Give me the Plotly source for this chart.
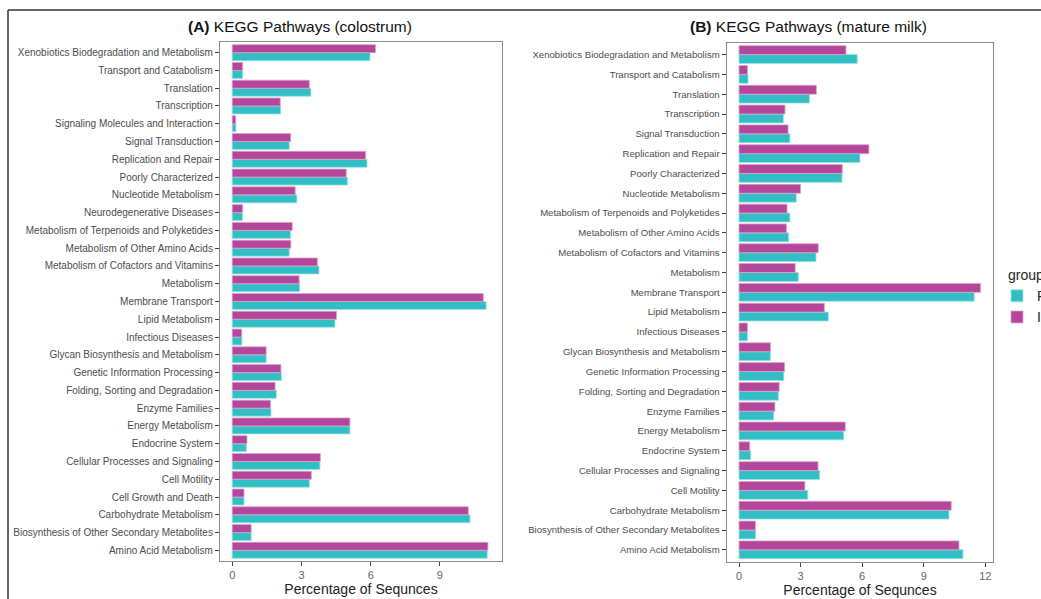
import plotly.graph_objects as go

W, H = 1041, 599

# ---------------- data (bottom -> top) ----------------
cats_a = [
    "Amino Acid Metabolism", "Biosynthesis of Other Secondary Metabolites",
    "Carbohydrate Metabolism", "Cell Growth and Death", "Cell Motility",
    "Cellular Processes and Signaling", "Endocrine System", "Energy Metabolism",
    "Enzyme Families", "Folding, Sorting and Degradation",
    "Genetic Information Processing", "Glycan Biosynthesis and Metabolism",
    "Infectious Diseases", "Lipid Metabolism", "Membrane Transport", "Metabolism",
    "Metabolism of Cofactors and Vitamins", "Metabolism of Other Amino Acids",
    "Metabolism of Terpenoids and Polyketides", "Neurodegenerative Diseases",
    "Nucleotide Metabolism", "Poorly Characterized", "Replication and Repair",
    "Signal Transduction", "Signaling Molecules and Interaction", "Transcription",
    "Translation", "Transport and Catabolism",
    "Xenobiotics Biodegradation and Metabolism",
]
p_a = [11.05, 0.82, 10.30, 0.51, 3.34, 3.80, 0.61, 5.10, 1.68, 1.91, 2.13, 1.47,
       0.42, 4.45, 11.00, 2.92, 3.76, 2.47, 2.53, 0.44, 2.80, 4.99, 5.84, 2.47,
       0.16, 2.10, 3.41, 0.45, 5.97]
i_a = [11.08, 0.82, 10.23, 0.51, 3.43, 3.82, 0.64, 5.10, 1.66, 1.86, 2.11, 1.47,
       0.41, 4.52, 10.88, 2.90, 3.69, 2.54, 2.60, 0.45, 2.73, 4.94, 5.78, 2.53,
       0.15, 2.08, 3.34, 0.45, 6.21]

cats_b = [
    "Amino Acid Metabolism", "Biosynthesis of Other Secondary Metabolites",
    "Carbohydrate Metabolism", "Cell Motility", "Cellular Processes and Signaling",
    "Endocrine System", "Energy Metabolism", "Enzyme Families",
    "Folding, Sorting and Degradation", "Genetic Information Processing",
    "Glycan Biosynthesis and Metabolism", "Infectious Diseases", "Lipid Metabolism",
    "Membrane Transport", "Metabolism", "Metabolism of Cofactors and Vitamins",
    "Metabolism of Other Amino Acids", "Metabolism of Terpenoids and Polyketides",
    "Nucleotide Metabolism", "Poorly Characterized", "Replication and Repair",
    "Signal Transduction", "Transcription", "Translation", "Transport and Catabolism",
    "Xenobiotics Biodegradation and Metabolism",
]
p_b = [10.91, 0.81, 10.23, 3.35, 3.93, 0.57, 5.10, 1.69, 1.92, 2.18, 1.53, 0.41,
       4.35, 11.46, 2.89, 3.75, 2.42, 2.48, 2.79, 5.02, 5.89, 2.48, 2.16, 3.43,
       0.44, 5.76]
i_b = [10.72, 0.80, 10.34, 3.21, 3.85, 0.52, 5.18, 1.75, 1.96, 2.22, 1.53, 0.41,
       4.16, 11.77, 2.74, 3.86, 2.31, 2.34, 3.00, 5.03, 6.33, 2.39, 2.24, 3.77,
       0.41, 5.21]

groups = ["P", "I"]
titles = ["<b>(A)</b> KEGG Pathways (colostrum)", "<b>(B)</b> KEGG Pathways (mature milk)"]
x_title = "Percentage of Sequnces"
ticks_a = [0, 3, 6, 9]
ticks_b = [0, 3, 6, 9, 12]

# ---------------- style ----------------
TEAL = "#31BEC4"
MAG = "#B4479A"
TEAL_EDGE = "#9ee0e3"
MAG_EDGE = "#dba3cc"
FONT = "Liberation Sans, Arial, sans-serif"

def px(x):
    return x / W

def py(y):
    return 1 - y / H

fig = go.Figure()

for (cats, pv, iv, xa, ya, show) in [
    (cats_a, p_a, i_a, "x", "y", False),
    (cats_b, p_b, i_b, "x2", "y2", True),
]:
    fig.add_trace(go.Bar(
        y=cats, x=pv, orientation="h", name=groups[0], xaxis=xa, yaxis=ya,
        marker=dict(color=TEAL, line=dict(color=TEAL_EDGE, width=0.8)),
        showlegend=show, legendgroup="P",
    ))
    fig.add_trace(go.Bar(
        y=cats, x=iv, orientation="h", name=groups[1], xaxis=xa, yaxis=ya,
        marker=dict(color=MAG, line=dict(color=MAG_EDGE, width=0.8)),
        showlegend=show, legendgroup="I",
    ))

axis_common = dict(
    showgrid=False, zeroline=False, showline=True, mirror=True,
    linecolor="#8c8c8c", linewidth=1.2, automargin=False,
    ticks="outside", ticklen=4, tickcolor="#444", tickwidth=1,
)

fig.update_layout(
    width=W, height=H, autosize=False,
    margin=dict(l=0, r=0, t=0, b=0, pad=0, autoexpand=False),
    paper_bgcolor="white", plot_bgcolor="white",
    barmode="group", bargap=0.1, bargroupgap=0,
    font=dict(family=FONT, color="#4d4d4d"),
    xaxis=dict(domain=[px(220), px(502)], range=[-0.53, 11.69], anchor="y",
               tickvals=ticks_a, tickfont=dict(size=11, color="#666"),
               title=dict(text=x_title, font=dict(size=14, color="#222"), standoff=2),
               **axis_common),
    yaxis=dict(domain=[py(561), py(42)], anchor="x", type="category",
               categoryorder="array", categoryarray=cats_a,
               range=[-0.6, len(cats_a) - 0.4],
               tickfont=dict(size=10, color="#4d4d4d"), **axis_common),
    xaxis2=dict(domain=[px(726.7), px(993.3)], range=[-0.6, 12.39], anchor="y2",
                tickvals=ticks_b, tickfont=dict(size=11, color="#666"),
                title=dict(text=x_title, font=dict(size=14, color="#222"), standoff=2),
                **axis_common),
    yaxis2=dict(domain=[py(561.7), py(42.7)], anchor="x2", type="category",
                categoryorder="array", categoryarray=cats_b,
                range=[-0.6, len(cats_b) - 0.4],
                tickfont=dict(size=9.6, color="#4d4d4d"), **axis_common),
    legend=dict(x=px(1006), y=py(262), xanchor="left", yanchor="top",
                indentation=-9,
                traceorder="normal", title=dict(text="group", font=dict(size=14, color="#222")),
                font=dict(size=14, color="#222"), bgcolor="rgba(0,0,0,0)"),
    annotations=[
        dict(text=titles[0], x=px(300), y=py(26), xref="paper", yref="paper",
             showarrow=False, xanchor="center", yanchor="middle",
             font=dict(size=15.5, color="#111")),
        dict(text=titles[1], x=px(808), y=py(26), xref="paper", yref="paper",
             showarrow=False, xanchor="center", yanchor="middle",
             font=dict(size=15.5, color="#111")),
    ],
    shapes=[
        dict(type="line", xref="paper", yref="paper", x0=px(8), x1=px(8),
             y0=0, y1=py(10), line=dict(color="#333", width=1.5)),
        dict(type="line", xref="paper", yref="paper", x0=px(8), x1=1,
             y0=py(10), y1=py(10), line=dict(color="#333", width=1.5)),
    ],
)

fig.write_html("out.html", config={"displayModeBar": False},
               post_script="document.body.style.margin='0';document.body.style.overflow='hidden';")
